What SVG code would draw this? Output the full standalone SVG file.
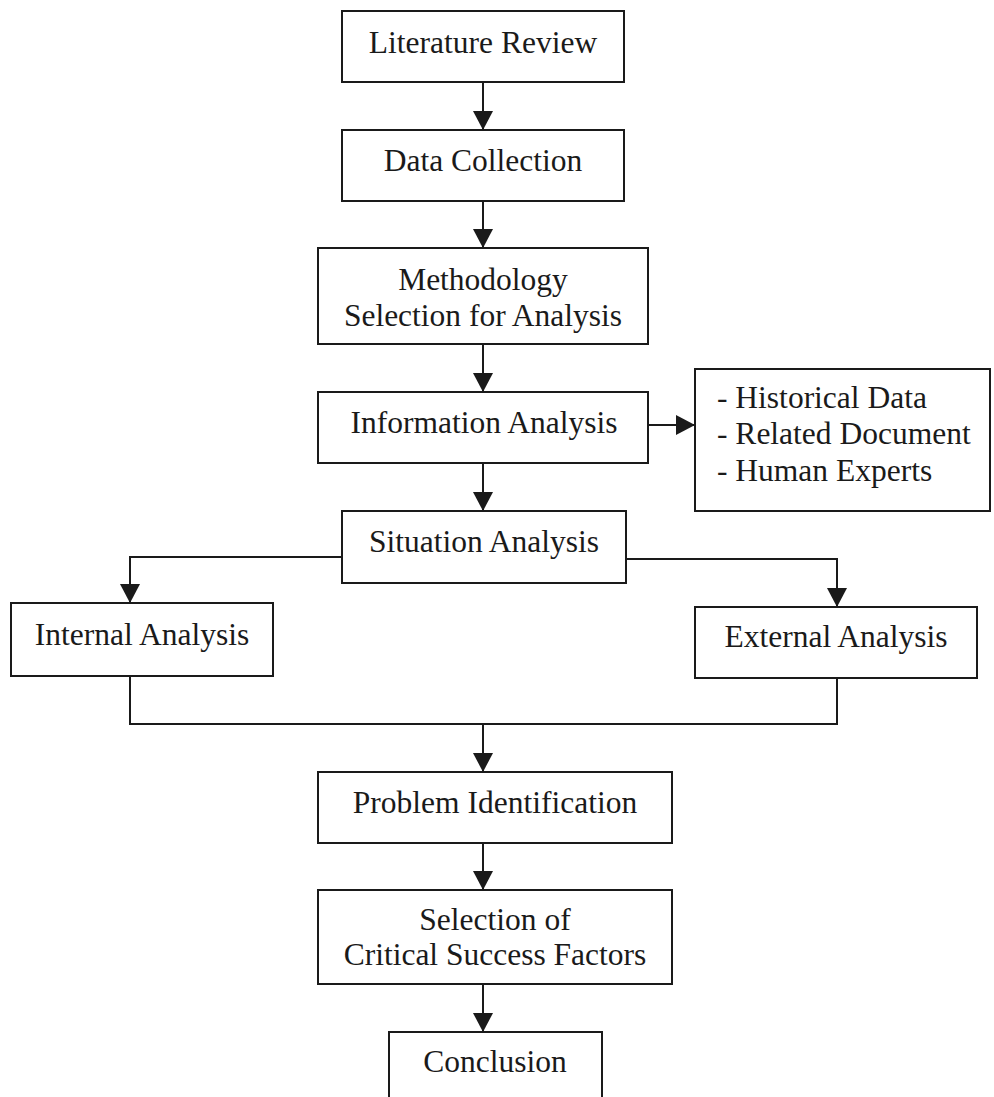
<svg xmlns="http://www.w3.org/2000/svg" width="994" height="1097" viewBox="0 0 994 1097">
<style>
rect.b{fill:#fff;stroke:#1a1a1a;stroke-width:2}
text{font-family:"Liberation Serif","Times New Roman",serif;font-size:31.5px;fill:#1a1a1a}
text.c{text-anchor:middle}
.cn path{fill:none;stroke:#1a1a1a;stroke-width:2}
</style>
<defs>
<marker id="ah" markerUnits="userSpaceOnUse" markerWidth="22" markerHeight="20" refX="19" refY="10" orient="auto">
<path d="M0,0 L19,10 L0,20 Z" fill="#1a1a1a"/>
</marker>
</defs>
<rect width="994" height="1097" fill="#fff"/>
<g class="cn" id="connectors">
<path d="M483,82 V130" marker-end="url(#ah)"/>
<path d="M483,201 V248" marker-end="url(#ah)"/>
<path d="M483,344 V392" marker-end="url(#ah)"/>
<path d="M649,425 H695" marker-end="url(#ah)"/>
<path d="M483,463 V511" marker-end="url(#ah)"/>
<path d="M342,557 H130 V603" marker-end="url(#ah)"/>
<path d="M626,559 H837 V607" marker-end="url(#ah)"/>
<path d="M130,676 V724 H837 V678"/>
<path d="M483,724 V772" marker-end="url(#ah)"/>
<path d="M483,843 V890" marker-end="url(#ah)"/>
<path d="M483,984 V1032" marker-end="url(#ah)"/>
</g>
<g id="literature-review"><rect class="b" x="342" y="11" width="282" height="71"/><text class="c" x="483" y="53">Literature Review</text></g>
<g id="data-collection"><rect class="b" x="342" y="130" width="282" height="71"/><text class="c" x="483" y="171">Data Collection</text></g>
<g id="methodology"><rect class="b" x="318" y="248" width="330" height="96"/><text class="c" x="483" y="290">Methodology</text><text class="c" x="483" y="326">Selection for Analysis</text></g>
<g id="information-analysis"><rect class="b" x="318" y="392" width="330" height="71"/><text class="c" x="484" y="433">Information Analysis</text></g>
<g id="sources"><rect class="b" x="695" y="369" width="295" height="142"/><text x="717" y="408">- Historical Data</text><text x="717" y="444">- Related Document</text><text x="717" y="481">- Human Experts</text></g>
<g id="situation-analysis"><rect class="b" x="342" y="511" width="284" height="72"/><text class="c" x="484" y="552">Situation Analysis</text></g>
<g id="internal-analysis"><rect class="b" x="11" y="603" width="262" height="73"/><text class="c" x="142" y="645">Internal Analysis</text></g>
<g id="external-analysis"><rect class="b" x="695" y="607" width="282" height="71"/><text class="c" x="836" y="647">External Analysis</text></g>
<g id="problem-identification"><rect class="b" x="318" y="772" width="354" height="71"/><text class="c" x="495" y="813">Problem Identification</text></g>
<g id="selection-csf"><rect class="b" x="318" y="890" width="354" height="94"/><text class="c" x="495" y="930">Selection of</text><text class="c" x="495" y="965">Critical Success Factors</text></g>
<g id="conclusion"><rect class="b" x="389" y="1032" width="213" height="80"/><text class="c" x="495" y="1072">Conclusion</text></g>
</svg>
